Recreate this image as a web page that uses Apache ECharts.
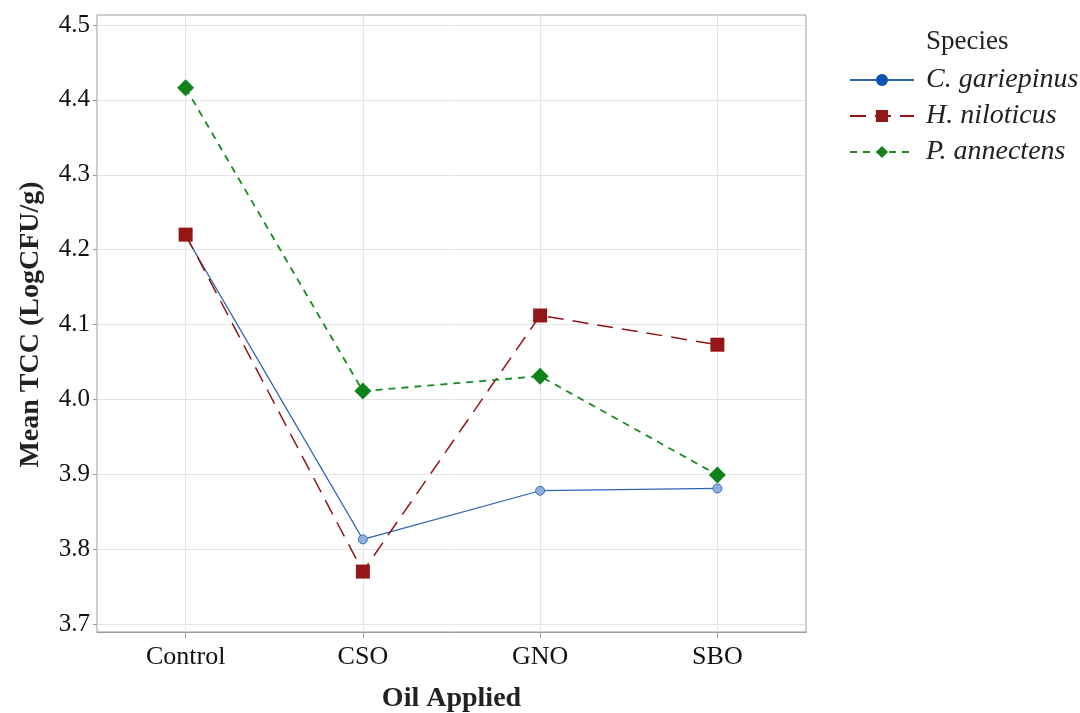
<!DOCTYPE html>
<html><head><meta charset="utf-8">
<script src="https://cdn.jsdelivr.net/npm/echarts@6/dist/echarts.min.js"></script>
<style>html,body{margin:0;padding:0;background:#fff}#c{width:1080px;height:713px}</style>
</head><body><div id="c"></div>
<script>
const categories = ['Control', 'CSO', 'GNO', 'SBO'];
const cGariepinus = [4.218, 3.813, 3.878, 3.881];
const hNiloticus = [4.220, 3.770, 4.112, 4.073];
const pAnnectens = [4.416, 4.011, 4.031, 3.899];
const yTicks = [3.7, 3.8, 3.9, 4.0, 4.1, 4.2, 4.3, 4.4, 4.5];

const FONT = 'Liberation Serif';
const chart = echarts.init(document.getElementById('c'), null, {renderer: 'canvas'});
const gridBase = {outerBoundsMode: 'none', containLabel: false};
chart.setOption({
  animation: false,
  backgroundColor: '#fff',
  grid: [
    Object.assign({left: 97, right: 274, top: 15, bottom: 81, show: true, borderColor: '#9a9a9a', borderWidth: 1, backgroundColor: 'transparent'}, gridBase),
    Object.assign({left: 97, right: 274, top: 25, bottom: 89, show: false}, gridBase),
    Object.assign({left: 185.6, right: 362.6, top: 15, bottom: 81, show: false}, gridBase)
  ],
  xAxis: [
    {type: 'category', gridIndex: 0, data: categories, boundaryGap: true,
     axisLine: {show: true, lineStyle: {color: '#9a9a9a'}},
     axisTick: {show: true, alignWithLabel: true, length: 6, lineStyle: {color: '#9a9a9a'}},
     axisLabel: {fontFamily: FONT, fontSize: 26, color: '#111', margin: 12},
     splitLine: {show: false},
     name: 'Oil Applied', nameLocation: 'middle', nameGap: 53,
     nameTextStyle: {fontFamily: FONT, fontSize: 28, fontWeight: 'bold', color: '#222'}},
    {type: 'category', gridIndex: 1, data: categories, show: false},
    {type: 'category', gridIndex: 2, data: categories, boundaryGap: false,
     axisLine: {show: false}, axisTick: {show: false}, axisLabel: {show: false},
     splitLine: {show: true, interval: 0, lineStyle: {color: '#e4e4e4', width: 1}}}
  ],
  yAxis: [
    {type: 'value', gridIndex: 0, min: 3.6893, max: 4.5133, show: false, splitLine: {show: false}},
    {type: 'value', gridIndex: 1, min: yTicks[0], max: yTicks[yTicks.length - 1], interval: 0.1,
     axisLine: {show: false},
     axisTick: {show: true, length: 4, lineStyle: {color: '#9a9a9a'}},
     axisLabel: {fontFamily: FONT, fontSize: 25, color: '#111', margin: 7, formatter: v => v.toFixed(1)},
     splitLine: {show: true, lineStyle: {color: '#e4e4e4', width: 1}},
     name: 'Mean TCC (LogCFU/g)', nameLocation: 'middle', nameGap: 52, nameRotate: 90,
     nameTextStyle: {fontFamily: FONT, fontSize: 28, fontWeight: 'bold', color: '#222'}},
    {type: 'value', gridIndex: 2, min: 0, max: 1, show: false, splitLine: {show: false}}
  ],
  legend: {
    orient: 'vertical', left: 844, top: 61, itemWidth: 64, itemHeight: 15, itemGap: 8,
    textStyle: {fontFamily: FONT, fontSize: 28, lineHeight: 27, fontStyle: 'italic', color: '#222', padding: [0, 0, 0, 7]},
    data: [
      {name: 'C. gariepinus', itemStyle: {color: '#0b54b0', borderWidth: 0}},
      {name: 'H. niloticus'},
      {name: 'P. annectens'}
    ]
  },
  graphic: [{type: 'text', left: 926, top: 28, style: {text: 'Species', fontFamily: FONT, fontSize: 27, fill: '#222'}}],
  series: [
    {name: 'C. gariepinus', type: 'line', xAxisIndex: 0, yAxisIndex: 0, data: cGariepinus,
     symbol: 'circle', symbolSize: 9,
     lineStyle: {color: '#2b64b4', width: 1.2},
     itemStyle: {color: '#8eb0dc', borderColor: '#3a6fb8', borderWidth: 1}},
    {name: 'H. niloticus', type: 'line', xAxisIndex: 0, yAxisIndex: 0, data: hNiloticus,
     symbol: 'rect', symbolSize: 14,
     lineStyle: {color: '#8e1616', width: 1.5, type: [16, 9]},
     itemStyle: {color: '#941616'}},
    {name: 'P. annectens', type: 'line', xAxisIndex: 0, yAxisIndex: 0, data: pAnnectens,
     symbol: 'diamond', symbolSize: [17, 17],
     lineStyle: {color: '#178a1f', width: 1.8, type: [7, 6]},
     itemStyle: {color: '#0f821a'}}
  ]
});
</script></body></html>
